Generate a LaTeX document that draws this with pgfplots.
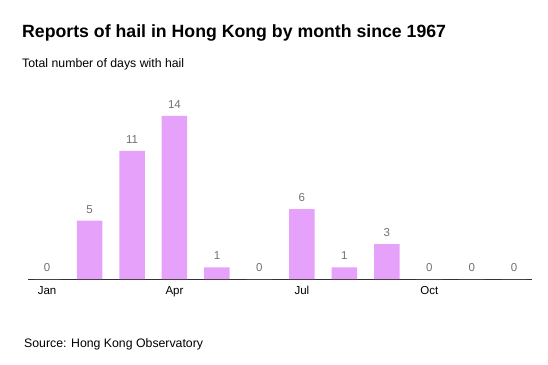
\documentclass[border=0pt]{standalone}
\usepackage{pgfplots}
\pgfplotsset{compat=1.18}
\usepackage{fontspec}
\setmainfont{Liberation Sans}
\definecolor{barc}{HTML}{E6A2FA}
\definecolor{valc}{HTML}{707070}
\definecolor{axc}{HTML}{333333}
\begin{document}
\begin{tikzpicture}[x=1pt,y=1pt]
\useasboundingbox (0,0) rectangle (548,364);
\node[anchor=base west,inner sep=0pt,font=\fontsize{17.7}{20}\selectfont\bfseries] at (22,326) {Reports of hail in Hong Kong by month since 1967};
\node[anchor=base west,inner sep=0pt,font=\fontsize{12.3}{14}\selectfont] at (22,296) {Total number of days with hail};
\node[anchor=base west,inner sep=0pt,font=\fontsize{12.3}{14}\selectfont] at (24,17) {Source: Hong Kong Observatory};
\begin{axis}[
  at={(28pt,85pt)}, anchor=south west,
  scale only axis, width=504pt, height=190pt,
  ybar, bar width=25.5pt,
  xmin=-0.45, xmax=11.42, ymin=0, ymax=16.3,
  axis y line=none, axis x line*=bottom,
  x axis line style={axc, line width=0.8pt, -},
  xtick={0,3,6,9}, xticklabels={Jan,Apr,Jul,Oct},
  major tick length=0pt,
  /pgf/number format/assume math mode=true,
  xticklabel style={font=\fontsize{11.5}{13}\selectfont, yshift=-4pt},
  nodes near coords,
  every node near coord/.append style={font=\fontsize{11.5}{13}\selectfont, text=valc, yshift=4pt},
  clip=false,
]
\addplot[fill=barc, draw=none] coordinates {(0,0) (1,5) (2,11) (3,14) (4,1) (5,0) (6,6) (7,1) (8,3) (9,0) (10,0) (11,0)};
\end{axis}
\end{tikzpicture}
\end{document}
